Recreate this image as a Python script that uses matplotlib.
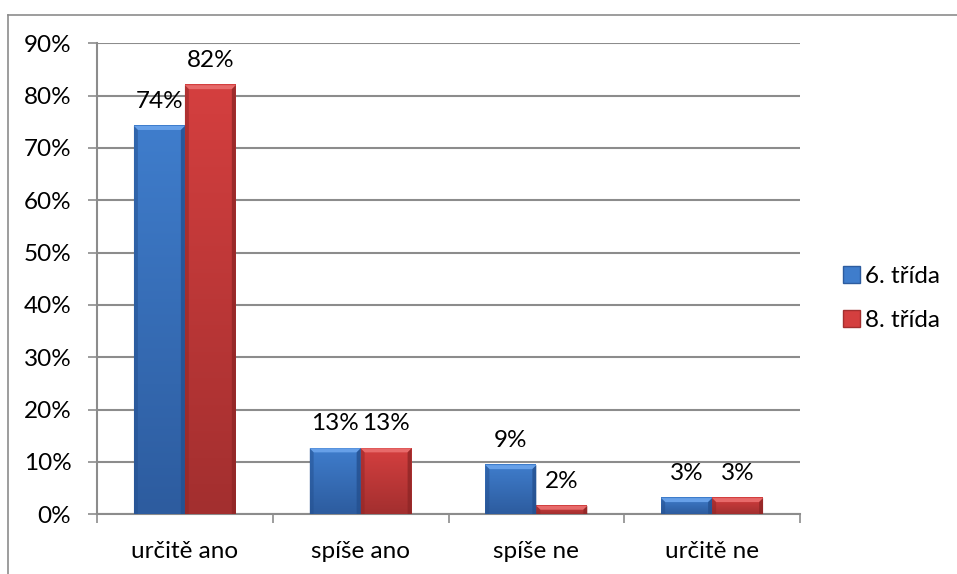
import matplotlib
matplotlib.use('Agg')
import matplotlib.pyplot as plt
import numpy as np
from matplotlib.patches import Polygon, Rectangle
from matplotlib.lines import Line2D
from matplotlib.colors import LinearSegmentedColormap
from matplotlib.ticker import FuncFormatter

plt.rcParams['font.family'] = ['Lato', 'DejaVu Sans']

categories = ['určitě ano', 'spíše ano', 'spíše ne', 'určitě ne']
series_names = ['6. třída', '8. třída']
grade6 = [74.2, 12.6, 9.4, 3.1]
grade8 = [82.0, 12.6, 1.6, 3.1]
yticks = [0, 10, 20, 30, 40, 50, 60, 70, 80, 90]

W, H = 957, 574
fig = plt.figure(figsize=(W / 100, H / 100), dpi=100)
ax = fig.add_axes([97 / W, 1 - 514.3 / H, 703 / W, 471 / H])

FS = 17.5
GRID = '#8c8c8c'

styles = [
    dict(dark='#2d5c9f', light='#3f7dcc', top='#67a0e8', side='#24508f'),
    dict(dark='#a32f2f', light='#d43f3f', top='#e76a6a', side='#8f2626'),
]

x = np.arange(len(categories))
w = 0.29
px_x = 1 / 175.75
px_y = 90 / 471
dx, dy = 4 * px_x, 4 * px_y

for si, (vals, st) in enumerate(zip([grade6, grade8], styles)):
    offs = (si - 0.5) * w
    bars = ax.bar(x + offs, vals, w, color=st['light'], zorder=2, linewidth=0)
    cmap = LinearSegmentedColormap.from_list('g', [st['dark'], st['light']])
    for b, v in zip(bars, vals):
        x0 = b.get_x()
        x1 = x0 + b.get_width()
        grad = np.linspace(0, 1, 64).reshape(-1, 1)
        ax.imshow(grad, extent=[x0, x1, 0, v], origin='lower', aspect='auto',
                  cmap=cmap, zorder=3, interpolation='bilinear')
        d_y = min(dy, v * 0.45)
        ax.add_patch(Polygon([(x0, v), (x1, v), (x1 - dx, v - d_y), (x0 + dx, v - d_y)],
                             closed=True, fc=st['top'], ec='none', zorder=4))
        ax.add_patch(Polygon([(x0, v), (x0 + dx, v - d_y), (x0 + dx, 0), (x0, 0)],
                             closed=True, fc=st['side'], ec='none', alpha=0.5, zorder=4))
        ax.add_patch(Polygon([(x1, v), (x1 - dx, v - d_y), (x1 - dx, 0), (x1, 0)],
                             closed=True, fc=st['side'], ec='none', alpha=0.8, zorder=4))
        ax.annotate(f'{round(v)}%', (x0 + (x1 - x0) / 2, v), xytext=(0, 13),
                    textcoords='offset points', ha='center', va='baseline',
                    fontsize=FS, color='black', zorder=5)

ax.set_xlim(-0.5, len(categories) - 0.5)
ax.set_ylim(0, 90)

ax.set_yticks(yticks)
ax.yaxis.set_major_formatter(FuncFormatter(lambda v, p: f'{int(v)}%'))
ax.grid(axis='y', color=GRID, linewidth=1.5, zorder=1)
ax.set_axisbelow(True)

ax.set_xticks(x)
ax.set_xticklabels(categories)
ax.set_xticks(np.arange(len(categories) + 1) - 0.5, minor=True)
ax.tick_params(axis='x', which='major', length=0, pad=19, labelsize=FS)
ax.tick_params(axis='x', which='minor', length=6.5, width=1.2, color=GRID, direction='out')
ax.tick_params(axis='y', length=6.5, width=1.2, color=GRID, direction='out', pad=12, labelsize=FS)

for s in ['top', 'right']:
    ax.spines[s].set_visible(False)
for s in ['left', 'bottom']:
    ax.spines[s].set_color(GRID)
    ax.spines[s].set_linewidth(1.5)

handles = [Rectangle((0, 0), 1, 1, fc=st['light'], ec=st['dark'], lw=1) for st in styles]
fig.legend(handles, series_names, loc='center left',
           bbox_to_anchor=(843 / W, 1 - 298.5 / H), frameon=False,
           fontsize=FS, handlelength=0.7, handleheight=0.7,
           handletextpad=0.22, labelspacing=0.95, borderpad=0, borderaxespad=0)

fig.add_artist(Line2D([8 / W, 1], [1 - 15 / H] * 2, color=GRID, lw=1.2))
fig.add_artist(Line2D([8 / W] * 2, [0, 1 - 15 / H], color=GRID, lw=1.2))

fig.savefig('out.png', dpi=100)
